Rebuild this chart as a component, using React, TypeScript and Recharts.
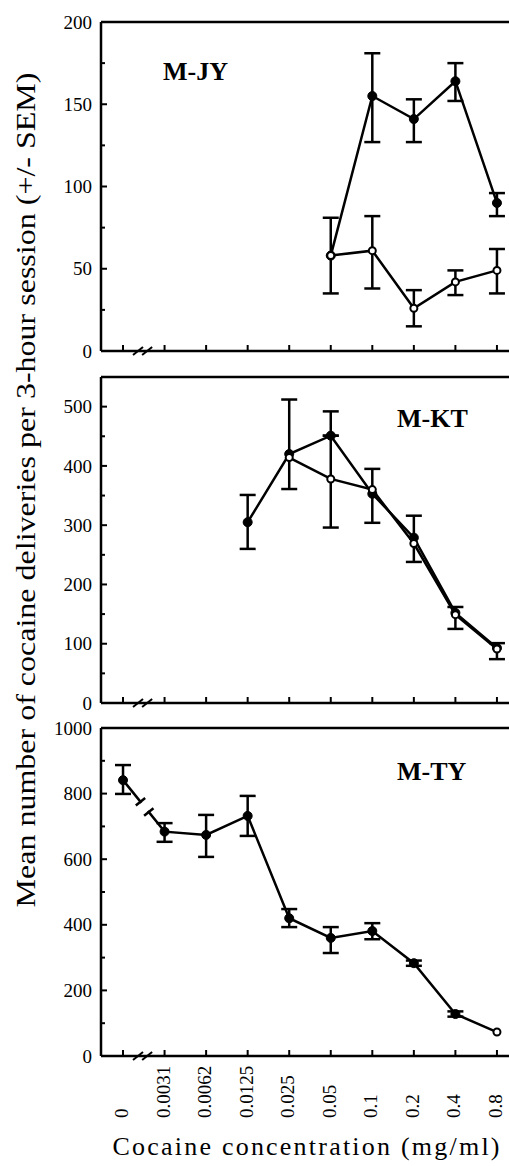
import { ErrorBar, Line, LineChart, ReferenceLine, XAxis, YAxis } from 'recharts';

const FONT = '"Liberation Serif", "Times New Roman", serif';

// cocaine concentration (mg/ml), plotted at evenly spaced positions
const concLabels = ['0', '0.0031', '0.0062', '0.0125', '0.025', '0.05', '0.1', '0.2', '0.4', '0.8'];
const concIndex = concLabels.map((_, i) => i);

// M-JY
const jyFilled = [null, null, null, null, null, 58, 155, 141, 164, 90];
const jyFilledHi = [null, null, null, null, null, 81, 181, 153, 175, 96];
const jyFilledLo = [null, null, null, null, null, 35, 127, 127, 152, 82];
const jyOpen = [null, null, null, null, null, 58, 61, 26, 42, 49];
const jyOpenHi = [null, null, null, null, null, null, 82, 37, 49, 62];
const jyOpenLo = [null, null, null, null, null, null, 38, 15, 34, 35];
const jyTicks = [0, 25, 50, 75, 100, 125, 150, 175, 200];

// M-KT
const ktFilled = [null, null, null, 305, 420, 451, 353, 279, 152, 93];
const ktFilledHi = [null, null, null, 351, 512, 492, 395, 316, 162, 101];
const ktFilledLo = [null, null, null, 260, 361, 451, 304, 238, 125, 74];
const ktOpen = [null, null, null, null, 414, 378, 360, 269, 149, 91];
const ktOpenHi = [null, null, null, null, null, 451, null, null, null, null];
const ktOpenLo = [null, null, null, null, null, 296, null, null, null, null];
const ktTicks = [0, 50, 100, 150, 200, 250, 300, 350, 400, 450, 500];

// M-TY
const tyMean = [841, 684, 674, 732, 420, 360, 381, 283, 128, 73];
const tyHi = [887, 710, 735, 793, 448, 393, 405, 291, 136, null];
const tyLo = [799, 653, 607, 671, 393, 314, 356, 275, 120, null];
const tyHollow = [false, false, false, false, false, false, false, false, false, true];
const tyTicks = [0, 100, 200, 300, 400, 500, 600, 700, 800, 900, 1000];

type Num = number | null;
type Series = { key: string; mean: Num[]; lo: Num[]; hi: Num[] };

const errOf = (v: Num, lo: Num, hi: Num) =>
  v == null || lo == null || hi == null ? undefined : [v - lo, hi - v];

const buildRows = (series: Series[]) =>
  concLabels.map((_, i) => {
    const row: any = { i };
    series.forEach((s) => {
      row[s.key] = s.mean[i];
      row[s.key + 'Err'] = errOf(s.mean[i], s.lo[i], s.hi[i]);
    });
    return row;
  });

const jyRows = buildRows([
  { key: 'filled', mean: jyFilled, lo: jyFilledLo, hi: jyFilledHi },
  { key: 'open', mean: jyOpen, lo: jyOpenLo, hi: jyOpenHi },
]);
const ktRows = buildRows([
  { key: 'filled', mean: ktFilled, lo: ktFilledLo, hi: ktFilledHi },
  { key: 'open', mean: ktOpen, lo: ktOpenLo, hi: ktOpenHi },
]);
const tyRows = buildRows([{ key: 'filled', mean: tyMean, lo: tyLo, hi: tyHi }]);

const X_DOMAIN: [number, number] = [-0.53, 9.29];
const PX_PER_IDX = 408 / (X_DOMAIN[1] - X_DOMAIN[0]);
const SW = 2.5;

const yTick = (majorStep: number) => (p: any) => {
  const v = p.payload.value;
  const major = v % majorStep === 0;
  const ax = p.x + 9;
  return (
    <g>
      <line x1={ax} x2={ax + (major ? 6 : 4)} y1={p.y} y2={p.y} stroke="#000" strokeWidth={2} />
      {major && (
        <text x={p.x} y={p.y} dy="0.35em" textAnchor="end" fontSize={19} fontFamily={FONT} fill="#000">
          {v}
        </text>
      )}
    </g>
  );
};

const xTick = (showLabel: boolean) => (p: any) => {
  const lx = p.x + 5;
  const ly = p.y + 62;
  return (
    <g>
      <line x1={p.x} x2={p.x} y1={p.y} y2={p.y - 6} stroke="#000" strokeWidth={2} />
      {showLabel && (
        <text
          x={lx}
          y={ly}
          transform={`rotate(-90 ${lx} ${ly})`}
          textAnchor="start"
          fontSize={19}
          fontFamily={FONT}
          fill="#000"
        >
          {concLabels[p.payload.value]}
        </text>
      )}
    </g>
  );
};

const filledDot = { r: 4.5, fill: '#000', stroke: '#000', strokeWidth: 1 };
const openDot = { r: 3.5, fill: '#fff', stroke: '#000', strokeWidth: 2 };

type PanelProps = {
  rows: any[];
  hasOpen: boolean;
  yMax: number;
  ticks: number[];
  majorStep: number;
  top: number;
  marginTop: number;
  plotH: number;
  xAxisH: number;
  showXLabels: boolean;
  lineBreak?: boolean;
};

const Panel = ({ rows, hasOpen, yMax, ticks, majorStep, top, marginTop, plotH, xAxisH, showXLabels, lineBreak }: PanelProps) => {
  const unit = yMax / plotH; // value units per pixel
  const slash = (x0: number) => [
    { x: x0, y: -4 * unit },
    { x: x0 + 10 / PX_PER_IDX, y: 4 * unit },
  ];

  // break marks on the line between the first two M-TY points
  const breaks: any[] = [];
  if (lineBreak) {
    const a = rows[0].filled;
    const b = rows[1].filled;
    const dxp = PX_PER_IDX;
    const dyp = (a - b) / unit;
    const len = Math.hypot(dxp, dyp);
    const px = (dyp / len) * 6;
    const py = (-dxp / len) * 6;
    const at = (t: number) => ({ x: t, y: a + (b - a) * t });
    const cap = (t: number) => {
      const c = at(t);
      return [
        { x: c.x - px / PX_PER_IDX, y: c.y + py * unit },
        { x: c.x + px / PX_PER_IDX, y: c.y - py * unit },
      ];
    };
    breaks.push(
      <ReferenceLine key="gap" segment={[at(0.44), at(0.6)]} stroke="#fff" strokeWidth={5} ifOverflow="visible" />,
      <ReferenceLine key="c1" segment={cap(0.42)} stroke="#000" strokeWidth={2.5} ifOverflow="visible" />,
      <ReferenceLine key="c2" segment={cap(0.62)} stroke="#000" strokeWidth={2.5} ifOverflow="visible" />,
    );
  }

  return (
    <div style={{ position: 'absolute', left: 0, top }}>
      <LineChart
        width={509}
        height={marginTop + plotH + xAxisH}
        data={rows}
        margin={{ top: marginTop, right: 0, bottom: 0, left: 0 }}
      >
        <XAxis
          type="number"
          dataKey="i"
          domain={X_DOMAIN}
          ticks={concIndex}
          interval={0}
          allowDataOverflow
          height={xAxisH}
          tickLine={false}
          tickSize={0}
          tickMargin={0}
          tick={xTick(showXLabels)}
          axisLine={{ stroke: '#000', strokeWidth: SW }}
        />
        <YAxis
          type="number"
          domain={[0, yMax]}
          ticks={ticks}
          interval={0}
          allowDataOverflow
          width={101}
          tickLine={false}
          tickSize={0}
          tickMargin={9}
          tick={yTick(majorStep)}
          axisLine={{ stroke: '#000', strokeWidth: SW }}
        />
        <ReferenceLine y={yMax} stroke="#000" strokeWidth={SW} ifOverflow="visible" />
        <ReferenceLine segment={[{ x: 0.33, y: 0 }, { x: 0.6, y: 0 }]} stroke="#fff" strokeWidth={4} ifOverflow="visible" />
        <ReferenceLine segment={slash(0.24)} stroke="#000" strokeWidth={2} ifOverflow="visible" />
        <ReferenceLine segment={slash(0.46)} stroke="#000" strokeWidth={2} ifOverflow="visible" />
        <Line
          type="linear"
          dataKey="filled"
          stroke="#000"
          strokeWidth={SW}
          isAnimationActive={false}
          dot={
            lineBreak
              ? (p: any) => (
                  <circle
                    key={p.index}
                    cx={p.cx}
                    cy={p.cy}
                    r={tyHollow[p.index] ? 3.5 : 4.5}
                    fill={tyHollow[p.index] ? '#fff' : '#000'}
                    stroke="#000"
                    strokeWidth={tyHollow[p.index] ? 2 : 1}
                  />
                )
              : filledDot
          }
          activeDot={false}
        >
          <ErrorBar dataKey="filledErr" width={8} strokeWidth={SW} stroke="#000" direction="y" />
        </Line>
        {hasOpen && (
          <Line
            type="linear"
            dataKey="open"
            stroke="#000"
            strokeWidth={SW}
            isAnimationActive={false}
            dot={openDot}
            activeDot={false}
          >
            <ErrorBar dataKey="openErr" width={8} strokeWidth={SW} stroke="#000" direction="y" />
          </Line>
        )}
        {breaks}
      </LineChart>
    </div>
  );
};

const App = () => {
  return (
    <div
      style={{
        position: 'absolute',
        left: 0,
        top: 0,
        width: 509,
        height: 1166,
        overflow: 'hidden',
        background: '#fff',
        fontFamily: FONT,
      }}
    >
      <Panel rows={jyRows} hasOpen yMax={200} ticks={jyTicks} majorStep={50} top={0} marginTop={22} plotH={329} xAxisH={10} showXLabels={false} />
      <Panel rows={ktRows} hasOpen yMax={550} ticks={ktTicks} majorStep={100} top={361} marginTop={16} plotH={326} xAxisH={10} showXLabels={false} />
      <Panel rows={tyRows} hasOpen={false} yMax={1000} ticks={tyTicks} majorStep={200} top={713} marginTop={15} plotH={328} xAxisH={70} showXLabels lineBreak />
      <svg width={509} height={1166} style={{ position: 'absolute', left: 0, top: 0, pointerEvents: 'none' }}>
        <text
          x={26}
          y={490}
          transform="rotate(-90 26 490)"
          textAnchor="middle"
          dominantBaseline="central"
          fontSize={27}
          fontFamily={FONT}
          textLength={835}
          lengthAdjust="spacingAndGlyphs"
        >
          Mean number of cocaine deliveries per 3-hour session (+/- SEM)
        </text>
        <text x={306} y={1155} textAnchor="middle" fontSize={26} fontFamily={FONT} textLength={387} lengthAdjust="spacing">
          Cocaine concentration (mg/ml)
        </text>
        <text x={163} y={80} fontSize={26} fontWeight="bold" fontFamily={FONT}>M-JY</text>
        <text x={397} y={427} fontSize={26} fontWeight="bold" fontFamily={FONT}>M-KT</text>
        <text x={397} y={780} fontSize={26} fontWeight="bold" fontFamily={FONT}>M-TY</text>
      </svg>
    </div>
  );
};

export default App;
